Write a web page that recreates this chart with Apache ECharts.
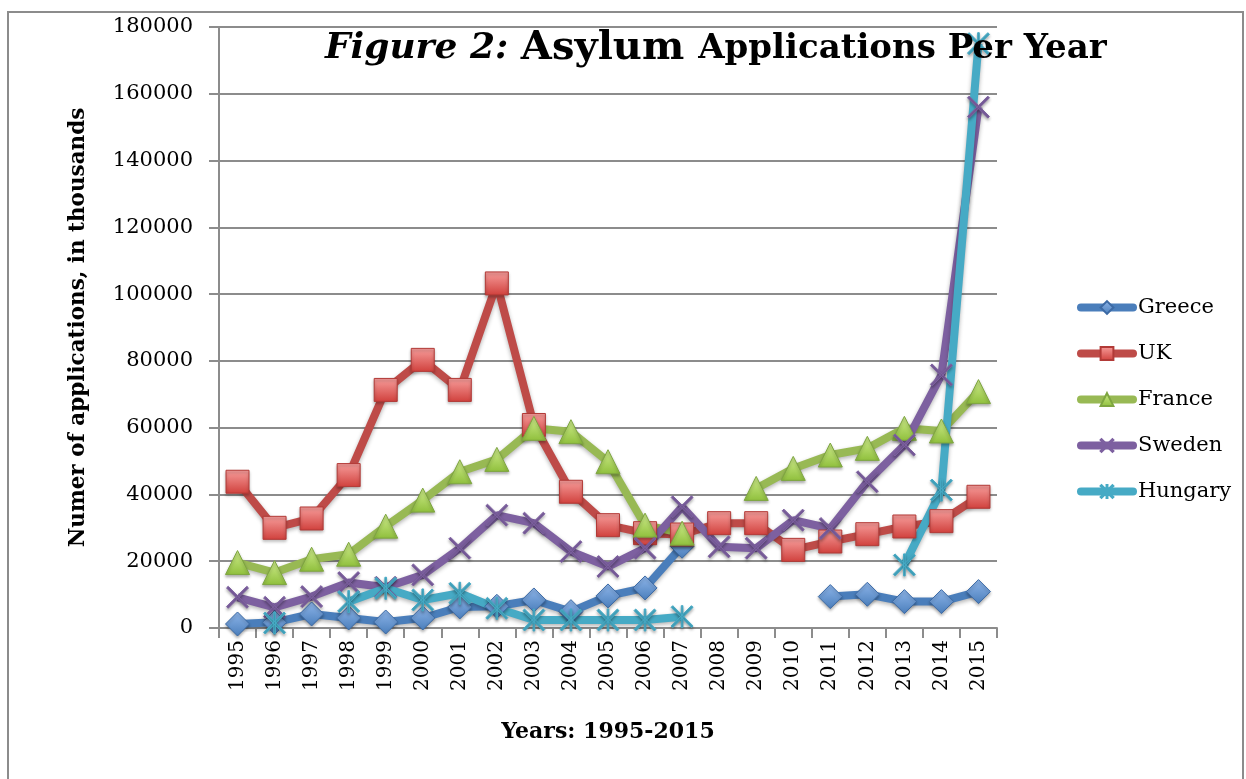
<!DOCTYPE html>
<html>
<head>
<meta charset="utf-8">
<script src="https://cdn.jsdelivr.net/npm/echarts@6/dist/echarts.min.js"></script>
<style>html,body{margin:0;padding:0;background:#fff}#c{width:1246px;height:779px}</style>
</head>
<body>
<div id="c"></div>
<script>
var years = ['1995','1996','1997','1998','1999','2000','2001','2002','2003','2004','2005','2006','2007','2008','2009','2010','2011','2012','2013','2014','2015'];
var greece  = [1200, 1700, 4200, 3000, 1800, 3000, 6300, 6500, 8400, 4900, 9600, 12000, 24500, null, null, null, 9400, 10100, 7900, 7900, 10900];
var uk      = [43800, 30000, 32800, 45800, 71300, 80300, 71300, 103200, 60800, 40800, 30800, 28400, 28000, 31400, 31400, 23400, 25900, 28100, 30400, 32000, 39300];
var france  = [19600, 16600, 20600, 22100, 30500, 38300, 46800, 50500, 59800, 58800, 49800, 30800, 28400, null, 41800, 47800, 51800, 53800, 59800, 59000, 70800];
var sweden  = [9200, 6200, 9400, 13600, 12200, 15900, 23900, 33800, 31400, 22900, 18400, 23900, 36300, 24300, 23900, 32300, 29800, 43800, 54800, 75800, 156000];
var hungary = [null, 1500, null, 7900, 11900, 8400, 10400, 5900, 2400, 2400, 2400, 2400, 3400, null, null, null, null, null, 18900, 41300, 175000];
var yTicks = [0, 20000, 40000, 60000, 80000, 100000, 120000, 140000, 160000, 180000];

var FONT = 'DejaVu Serif';
var xSym = 'path://M0,1.5 L1.5,0 L20,18.5 L18.5,20 Z M18.5,0 L20,1.5 L1.5,20 L0,18.5 Z';
var starSym = 'path://M0,1.5 L1.5,0 L20,18.5 L18.5,20 Z M18.5,0 L20,1.5 L1.5,20 L0,18.5 Z M9.25,0 L10.75,0 L10.75,20 L9.25,20 Z';

function grad(light, dark){
  return new echarts.graphic.LinearGradient(0,0,0,1,[{offset:0,color:light},{offset:1,color:dark}]);
}
function mk(name, data, color, symbol, size, fill, border){
  return {
    name: name, type: 'line', data: data, connectNulls: false,
    symbol: symbol, symbolSize: size, showAllSymbol: true,
    lineStyle: {width: 8, color: color, shadowBlur: 4, shadowColor: 'rgba(0,0,0,0.3)', shadowOffsetY: 2},
    itemStyle: {color: fill, borderColor: border, borderWidth: 1, shadowBlur: 3, shadowColor: 'rgba(0,0,0,0.3)', shadowOffsetY: 2},
    emphasis: {disabled: true}
  };
}
var chart = echarts.init(document.getElementById('c'));
chart.setOption({
  animation: false,
  backgroundColor: '#fff',
  graphic: [{type:'rect', shape:{x:8, y:12, width:1235, height:800}, style:{fill:'none', stroke:'#8c8c8c', lineWidth:2}, z:-1}],
  title: {
    left: 320, top: 24,
    text: '{i|Figure 2: }{b|Asylum }{s|Applications Per Year}',
    textStyle: {
      rich: {
        i: {fontFamily: FONT, fontStyle: 'italic', fontSize: 36, color: '#000'},
        b: {fontFamily: FONT, fontWeight: 'bold', fontSize: 40, color: '#000'},
        s: {fontFamily: FONT, fontWeight: 'bold', fontSize: 34, color: '#000'}
      }
    }
  },
  legend: {
    orient: 'vertical', left: 1072, top: 292, itemGap: 25,
    itemWidth: 52, itemHeight: 16,
    lineStyle: {width: 8, cap: 'round'},
    textStyle: {fontFamily: FONT, fontSize: 21, color: '#000', padding: [0,0,0,0]},
    data: ['Greece','UK','France','Sweden','Hungary']
  },
  grid: {left: 219, right: 249, top: 27, bottom: 151, containLabel: false},
  xAxis: {
    type: 'category', data: years, boundaryGap: true,
    name: 'Years: 1995-2015', nameLocation: 'middle', nameGap: 93,
    nameTextStyle: {fontFamily: FONT, fontWeight: 'bold', fontSize: 22, color: '#000'},
    axisLine: {lineStyle: {color: '#8c8c8c', width: 2}},
    axisTick: {show: true, length: 10, alignWithLabel: false, lineStyle: {color: '#8c8c8c', width: 2}},
    axisLabel: {rotate: 90, margin: 12, fontFamily: FONT, fontSize: 20, color: '#000', interval: 0}
  },
  yAxis: {
    type: 'value', min: 0, max: 180000, interval: 20000,
    name: 'Numer of applications, in thousands', nameLocation: 'middle', nameGap: 130,
    nameTextStyle: {fontFamily: FONT, fontWeight: 'bold', fontSize: 21.5, color: '#000'},
    axisLine: {show: true, lineStyle: {color: '#8c8c8c', width: 2}},
    axisTick: {show: true, length: 10, lineStyle: {color: '#8c8c8c', width: 2}},
    splitLine: {lineStyle: {color: '#8c8c8c', width: 2}},
    axisLabel: {margin: 26, fontFamily: FONT, fontSize: 21, color: '#000',
      customValues: yTicks, formatter: function(v){return String(v);}}
  },
  series: [
    mk('Greece', greece, '#4A7EBB', 'diamond', 24, grad('#8fb6ea','#4a7ebb'), '#3c6aa5'),
    mk('UK', uk, '#BE4B48', 'rect', 23, grad('#f79e9c','#d0403c'), '#b23a37'),
    mk('France', france, '#98B954', 'triangle', 24, grad('#d1ee8e','#8fbf3c'), '#7ea640'),
    mk('Sweden', sweden, '#7D60A0', xSym, 22, '#7D60A0', '#7D60A0'),
    mk('Hungary', hungary, '#46AAC5', starSym, 22, '#46AAC5', '#46AAC5')
  ]
});
</script>
</body>
</html>
